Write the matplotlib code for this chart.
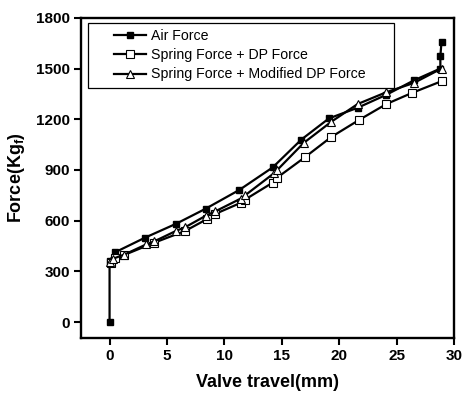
import matplotlib
matplotlib.use("Agg")
import matplotlib.pyplot as plt
from matplotlib.patches import Rectangle

# Data
air_x = [0.0, 0.0, 0.45, 3.1, 5.8, 8.4, 11.3, 14.2, 16.7, 19.1, 21.6, 24.1, 26.5, 28.8, 28.8, 28.9]
air_y = [0, 360, 412, 500, 582, 672, 782, 915, 1080, 1205, 1268, 1345, 1430, 1500, 1574, 1657]

dp_x = [0.1, 0.5, 1.3, 3.9, 6.6, 8.5, 9.2, 11.4, 11.8, 14.2, 14.6, 17.0, 19.3, 21.7, 24.1, 26.3, 28.9]
dp_y = [350, 380, 398, 470, 540, 610, 640, 705, 725, 825, 855, 975, 1095, 1195, 1290, 1355, 1425]

mdp_x = [0.0, 0.3, 1.3, 3.2, 3.9, 5.8, 6.6, 8.4, 9.2, 11.4, 11.8, 14.3, 14.6, 16.9, 19.3, 21.6, 24.1, 26.5, 28.9]
mdp_y = [355, 375, 400, 460, 478, 540, 562, 630, 655, 730, 750, 880, 900, 1060, 1185, 1290, 1360, 1415, 1500]

labels = ["Air Force", "Spring Force + DP Force", "Spring Force + Modified DP Force"]
xticks = [0, 5, 10, 15, 20, 25, 30]
yticks = [0, 300, 600, 900, 1200, 1500, 1800]

plt.rcParams['font.family'] = ['Liberation Sans', 'DejaVu Sans']
plt.rcParams['mathtext.fontset'] = 'custom'
plt.rcParams['mathtext.bf'] = 'Liberation Sans:bold'
plt.rcParams['mathtext.rm'] = 'Liberation Sans'

fig = plt.figure(figsize=(4.62, 3.96), dpi=100)
ax = fig.add_axes([0.175, 0.146, 0.808, 0.809])

ax.plot(air_x, air_y, '-', color='black', lw=1.6, marker='s', ms=5,
        mfc='black', mec='black', label=labels[0])
ax.plot(dp_x, dp_y, '-', color='black', lw=1.6, marker='s', ms=5.5,
        mfc='white', mec='black', mew=0.8, label=labels[1])
ax.plot(mdp_x, mdp_y, '-', color='black', lw=1.6, marker='^', ms=6,
        mfc='white', mec='black', mew=0.8, label=labels[2])

ax.set_xlim(-2.5, 30)
ax.set_ylim(-95, 1800)
ax.set_xticks(xticks)
ax.set_yticks(yticks)
ax.set_xticklabels([str(t) for t in xticks], fontweight='bold', fontsize=11)
ax.set_yticklabels([str(t) for t in yticks], fontweight='bold', fontsize=11)
ax.tick_params(direction='out', length=5, width=1.5, pad=3)
for s in ax.spines.values():
    s.set_linewidth(1.7)

ax.set_xlabel('Valve travel(mm)', fontweight='bold', fontsize=13, labelpad=8)
ax.set_ylabel(r'Force(Kg$_{\mathbf{f}}$)', fontweight='bold', fontsize=13, labelpad=6)

# legend frame
ax.add_patch(Rectangle((0.019, 0.781), 0.820, 0.203, transform=ax.transAxes,
                       facecolor='white', edgecolor='black', lw=0.9, zorder=4))
leg = ax.legend(loc='upper left', bbox_to_anchor=(0.088, 0.966), fontsize=10.2,
                frameon=False, handlelength=2.3, borderpad=0.0,
                labelspacing=0.38, handletextpad=0.35, borderaxespad=0.0)
leg.set_zorder(5)

fig.savefig('out.png', dpi=100)
